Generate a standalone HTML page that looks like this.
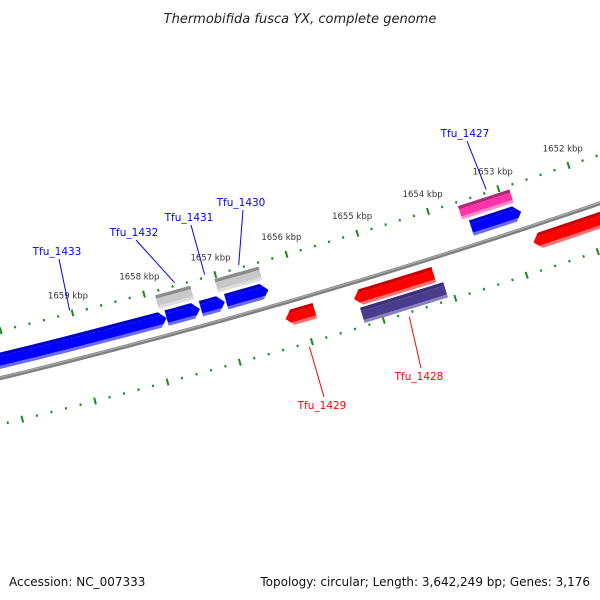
<!DOCTYPE html>
<html><head><meta charset="utf-8"><style>
html,body{margin:0;padding:0;background:#fff;}
svg{display:block;}
text{font-family:"DejaVu Sans","Liberation Sans",sans-serif;}
</style></head><body>
<svg id="map" width="600" height="600" viewBox="0 0 600 600" xmlns="http://www.w3.org/2000/svg">
<text x="300" y="23" text-anchor="middle" font-size="13" font-style="italic" fill="#222">Thermobifida fusca YX, complete genome</text>
<text x="9" y="586" font-size="12" fill="#111">Accession: NC_007333</text>
<text x="590" y="586" text-anchor="end" font-size="12" fill="#111">Topology: circular; Length: 3,642,249 bp; Genes: 3,176</text>
<g id="ticks"></g>
<path id="backbone" fill="none" stroke="#808080" stroke-width="4"></path>
<path id="backbone-hi" fill="none" stroke="#b0b0b0" stroke-width="1"></path>
<g id="genes"></g>
<g id="labels"></g>
</svg>
<script>
// data
const geneNames = ["Tfu_1433","Tfu_1432","Tfu_1431","Tfu_1430","gray1","gray2","pink","Tfu_1427","Tfu_1429","red_big","Tfu_1428","red_right"];
const geneStarts = [1661500,1657790,1657310,1656958,1657860,1657029,1653593,1653509,1656254,1655297,1655255,1652777];
const geneEnds   = [1657790,1657325,1656975,1656367,1657367,1656409,1652861,1652805,1655846,1654180,1654090,1650369];
const geneTracks = ["fwd","fwd","fwd","fwd","fwd2","fwd2","fwd2","fwd","rev","rev","rev2","rev"];
const geneArrows = ["lo","lo","lo","lo","none","none","none","lo","hi","hi","none","hi"];
const geneColors = ["blue","blue","blue","blue","gray","gray","pink","blue","red","red","purple","red"];
const tickLabels = [1652,1653,1654,1655,1656,1657,1658,1659];
const labeled = ["Tfu_1433","Tfu_1432","Tfu_1431","Tfu_1430","Tfu_1427","Tfu_1429","Tfu_1428"];
const labelAnchorBp = [1659030,1657560,1657140,1656660,1653160,1656050,1654660];
const labelXY = [[57,255],[134,236],[189,221],[241,206],[465,137],[322,409],[419,380]];

const NS="http://www.w3.org/2000/svg";
const CX=-1597, CY=-6213, R=6782, A0=75.65, K=0.000629;
function ang(bp){return (A0-(1659000-bp)*K)*Math.PI/180;}
function pt(r,a){return [CX+r*Math.cos(a), CY+r*Math.sin(a)];}
function arcPts(r,a1,a2,n){const p=[];for(let i=0;i<=n;i++){const a=a1+(a2-a1)*i/n;p.push(pt(r,a));}return p;}
function mk(tag,attrs,parent){const e=document.createElementNS(NS,tag);for(const k in attrs)e.setAttribute(k,attrs[k]);parent.appendChild(e);return e;}
const svg=document.getElementById('map');
const defs=mk('defs',{},svg);

(function(){const p=arcPts(R,ang(1650000),ang(1664000),60);const d='M'+p.map(q=>q[0].toFixed(1)+','+q[1].toFixed(1)).join(' L');
document.getElementById('backbone').setAttribute('d',d);
const p2=arcPts(R-0.8,ang(1650000),ang(1664000),60);
document.getElementById('backbone-hi').setAttribute('d','M'+p2.map(q=>q[0].toFixed(1)+','+q[1].toFixed(1)).join(' L'));})();

const tg=document.getElementById('ticks');
for(let bp=1649000;bp<=1663000;bp+=200){
  const a=ang(bp); const major=bp%1000===0;
  for(const rr of [R-46,R+45]){
    const h=major?3.5:1.2;
    const p1=pt(rr-h,a),p2=pt(rr+h,a);
    const l=mk('line',{x1:p1[0],y1:p1[1],x2:p2[0],y2:p2[1],stroke:'#1a8a1a','stroke-width':2},tg);
    
    
  }
}
tickLabels.forEach(k=>{
  const p=pt(R-64,ang(k*1000));
  const t=mk('text',{x:p[0].toFixed(1),y:(p[1]+3).toFixed(1),'text-anchor':'middle','font-size':'8.5',fill:'#333'},tg);
  t.textContent=k+' kbp';
  
  
});

const trackR={fwd:[R-25,R-9],fwd2:[R-42,R-28],rev:[R+8,R+24],rev2:[R+26,R+42]};
const pal={blue:['#0000c8','#0000ff','#6a6aff'],gray:['#8c8c8c','#c8c8c8','#dedede'],pink:['#b02a7a','#ff33aa','#ff8ccc'],
 red:['#c80000','#ff0000','#ff7070'],purple:['#3a2f78','#4a3c8c','#8a80c0']};
const gg=document.getElementById('genes');
const fwdById={};
geneNames.forEach((nm,i)=>{
  const [r1,r2]=trackR[geneTracks[i]];
  let a1=ang(geneEnds[i]), a2=ang(geneStarts[i]);
  const head=7/R; const arrow=geneArrows[i];
  const rm=(r1+r2)/2;
  let poly=[];
  if(arrow==='lo'){
    const b=a1+head;
    poly=[...arcPts(r1,b,a2,8),...arcPts(r2,a2,b,8),pt(rm,a1)];
  }else if(arrow==='hi'){
    const b=a2-head;
    poly=[...arcPts(r1,a1,b,8),pt(rm,a2),...arcPts(r2,b,a1,8)];
  }else{
    poly=[...arcPts(r1,a1,a2,8),...arcPts(r2,a2,a1,8)];
  }
  const ptsStr=poly.map(q=>q[0].toFixed(1)+','+q[1].toFixed(1)).join(' ');
  const cp=mk('clipPath',{id:'cp'+i},defs);
  mk('polygon',{points:ptsStr},cp);
  const g=mk('g',{'clip-path':'url(#cp'+i+')'},gg);
  
  
  const c=pal[geneColors[i]];
  const bands=[[r1-1,r1+3.5,c[0]],[r1+3.5,r2-3,c[1]],[r2-3,r2+1,c[2]]];
  bands.forEach(bd=>{
    const p=[...arcPts(bd[0],a1-0.001,a2+0.001,8),...arcPts(bd[1],a2+0.001,a1-0.001,8)];
    mk('polygon',{points:p.map(q=>q[0].toFixed(1)+','+q[1].toFixed(1)).join(' '),fill:bd[2]},g);
  });
  fwdById[nm]=geneTracks[i].startsWith('fwd');
});

const lg=document.getElementById('labels');
labeled.forEach((nm,i)=>{
  const fwd=fwdById[nm]; const a=ang(labelAnchorBp[i]);
  const s=fwd?pt(R-49,a):pt(R+49,a);
  const [lx,ly]=labelXY[i];
  const col=fwd?'#0000ff':'#ff0000';
  const ey=fwd?ly+4:ly-12;
  const l=mk('line',{x1:s[0].toFixed(1),y1:s[1].toFixed(1),x2:lx+2,y2:ey,stroke:col,'stroke-width':1},lg);
  
  
  const t=mk('text',{x:lx,y:ly,'text-anchor':'middle','font-size':'10.5',fill:col},lg);
  t.textContent=nm;
  
  
});
</script>
</body></html>
